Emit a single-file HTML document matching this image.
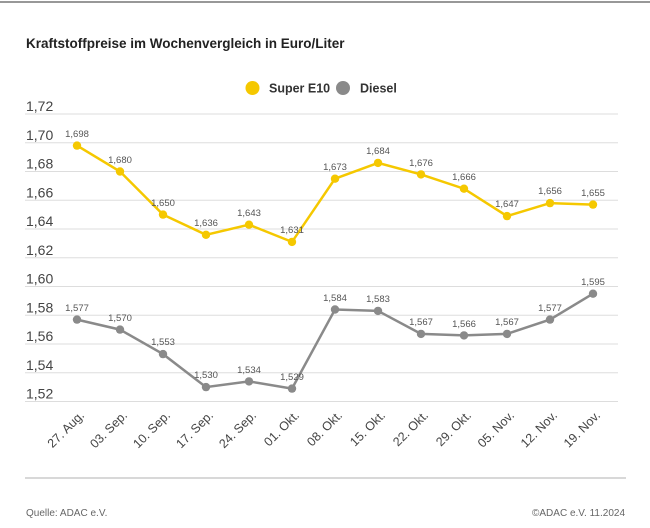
<!DOCTYPE html>
<html><head><meta charset="utf-8"><style>
body{margin:0;background:#fff;}
svg{display:block;font-family:"Liberation Sans",sans-serif;}
</style></head><body>
<svg width="650" height="528" viewBox="0 0 650 528" xmlns="http://www.w3.org/2000/svg">
<rect width="650" height="528" fill="#fff"/>
<line x1="0" y1="2" x2="650" y2="2" stroke="#777" stroke-width="1.5"/>
<text x="26" y="48" font-size="13.5" font-weight="bold" fill="#222">Kraftstoffpreise im Wochenvergleich in Euro/Liter</text>
<circle cx="252.5" cy="88" r="7" fill="#f5c800"/>
<text x="269" y="92.5" font-size="12.5" font-weight="bold" fill="#333">Super E10</text>
<circle cx="343" cy="88" r="7" fill="#8a8a8a"/>
<text x="360" y="92.5" font-size="12.5" font-weight="bold" fill="#333">Diesel</text>
<g id="grid" stroke="#ddd" stroke-width="1">
<line x1="25" x2="618" y1="114" y2="114"/><line x1="25" x2="618" y1="142.75" y2="142.75"/>
<line x1="25" x2="618" y1="171.5" y2="171.5"/><line x1="25" x2="618" y1="200.25" y2="200.25"/>
<line x1="25" x2="618" y1="229" y2="229"/><line x1="25" x2="618" y1="257.75" y2="257.75"/>
<line x1="25" x2="618" y1="286.5" y2="286.5"/><line x1="25" x2="618" y1="315.25" y2="315.25"/>
<line x1="25" x2="618" y1="344" y2="344"/><line x1="25" x2="618" y1="372.75" y2="372.75"/>
<line x1="25" x2="618" y1="401.5" y2="401.5"/>
</g>
<g font-size="14" fill="#444">
<text x="26" y="111">1,72</text><text x="26" y="140">1,70</text><text x="26" y="168.5">1,68</text>
<text x="26" y="197.5">1,66</text><text x="26" y="226">1,64</text><text x="26" y="255">1,62</text>
<text x="26" y="283.5">1,60</text><text x="26" y="312.5">1,58</text><text x="26" y="341">1,56</text>
<text x="26" y="370">1,54</text><text x="26" y="398.5">1,52</text>
</g>
<polyline fill="none" stroke="#f5c800" stroke-width="2.5" points="77,145.6 120,171.5 163,214.6 206,234.8 249,224.7 292,241.9 335,178.7 378,162.9 421,174.4 464,188.7 507,216.1 550,203.1 593,204.6"/>
<g fill="#f5c800">
<circle cx="77" cy="145.6" r="4.2"/><circle cx="120" cy="171.5" r="4.2"/><circle cx="163" cy="214.6" r="4.2"/>
<circle cx="206" cy="234.8" r="4.2"/><circle cx="249" cy="224.7" r="4.2"/><circle cx="292" cy="241.9" r="4.2"/>
<circle cx="335" cy="178.7" r="4.2"/><circle cx="378" cy="162.9" r="4.2"/><circle cx="421" cy="174.4" r="4.2"/>
<circle cx="464" cy="188.7" r="4.2"/><circle cx="507" cy="216.1" r="4.2"/><circle cx="550" cy="203.1" r="4.2"/>
<circle cx="593" cy="204.6" r="4.2"/>
</g>
<polyline fill="none" stroke="#8a8a8a" stroke-width="2.5" points="77,319.6 120,329.6 163,354.1 206,387.1 249,381.4 292,388.6 335,309.5 378,310.9 421,333.9 464,335.4 507,333.9 550,319.6 593,293.7"/>
<g fill="#8a8a8a">
<circle cx="77" cy="319.6" r="4.2"/><circle cx="120" cy="329.6" r="4.2"/><circle cx="163" cy="354.1" r="4.2"/>
<circle cx="206" cy="387.1" r="4.2"/><circle cx="249" cy="381.4" r="4.2"/><circle cx="292" cy="388.6" r="4.2"/>
<circle cx="335" cy="309.5" r="4.2"/><circle cx="378" cy="310.9" r="4.2"/><circle cx="421" cy="333.9" r="4.2"/>
<circle cx="464" cy="335.4" r="4.2"/><circle cx="507" cy="333.9" r="4.2"/><circle cx="550" cy="319.6" r="4.2"/>
<circle cx="593" cy="293.7" r="4.2"/>
</g>
<g font-size="9.5" fill="#555" text-anchor="middle">
<text x="77" y="137">1,698</text><text x="120" y="163">1,680</text><text x="163" y="206">1,650</text>
<text x="206" y="226">1,636</text><text x="249" y="216">1,643</text><text x="292" y="233">1,631</text>
<text x="335" y="170">1,673</text><text x="378" y="154">1,684</text><text x="421" y="166">1,676</text>
<text x="464" y="180">1,666</text><text x="507" y="207">1,647</text><text x="550" y="194">1,656</text>
<text x="593" y="196">1,655</text>
<text x="77" y="311">1,577</text><text x="120" y="321">1,570</text><text x="163" y="345">1,553</text>
<text x="206" y="378">1,530</text><text x="249" y="373">1,534</text><text x="292" y="380">1,529</text>
<text x="335" y="301">1,584</text><text x="378" y="302">1,583</text><text x="421" y="325">1,567</text>
<text x="464" y="327">1,566</text><text x="507" y="325">1,567</text><text x="550" y="311">1,577</text>
<text x="593" y="285">1,595</text>
</g>
<g font-size="12.5" fill="#444" text-anchor="end">
<text transform="translate(85,416) rotate(-45)">27. Aug.</text>
<text transform="translate(128,416) rotate(-45)">03. Sep.</text>
<text transform="translate(171,416) rotate(-45)">10. Sep.</text>
<text transform="translate(214,416) rotate(-45)">17. Sep.</text>
<text transform="translate(257,416) rotate(-45)">24. Sep.</text>
<text transform="translate(300,416) rotate(-45)">01. Okt.</text>
<text transform="translate(343,416) rotate(-45)">08. Okt.</text>
<text transform="translate(386,416) rotate(-45)">15. Okt.</text>
<text transform="translate(429,416) rotate(-45)">22. Okt.</text>
<text transform="translate(472,416) rotate(-45)">29. Okt.</text>
<text transform="translate(515,416) rotate(-45)">05. Nov.</text>
<text transform="translate(558,416) rotate(-45)">12. Nov.</text>
<text transform="translate(601,416) rotate(-45)">19. Nov.</text>
</g>
<line x1="25" x2="626" y1="478" y2="478" stroke="#ccc" stroke-width="1.5"/>
<text x="26" y="516" font-size="10" fill="#666">Quelle: ADAC e.V.</text>
<text x="625" y="516" font-size="10" fill="#666" text-anchor="end">©ADAC e.V. 11.2024</text>
</svg>
</body></html>
